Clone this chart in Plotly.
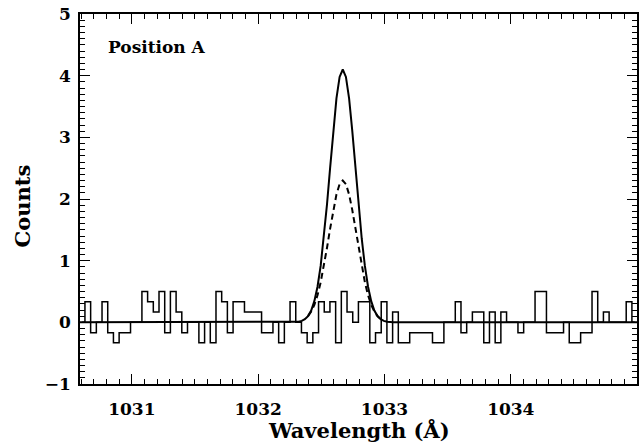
import plotly.graph_objects as go
import numpy as np

# Histogram (binned spectrum): regular wavelength bins
bin_start = 1030.584      # left edge of first bin (Å)
bin_width = 0.0451        # Å
counts = [
    0, 0.333, -0.167, 0, 0.333, -0.167, -0.333, -0.167, -0.167, 0,
    0, 0.5, 0.333, 0.167, 0.5, -0.167, 0.5, 0.167, -0.167, 0,
    0, -0.333, 0, -0.333, 0.5, 0.333, -0.167, 0.333, 0.333, 0.167,
    0.167, 0.167, -0.167, -0.167, 0, -0.333, 0, 0.333, 0, -0.167,
    -0.333, -0.167, 0.333, 0.167, 0.333, -0.333, 0.5, 0.167, 0, 0.333,
    0.333, -0.333, -0.167, 0.333, -0.333, 0.167, -0.333, -0.333, -0.167, -0.167,
    -0.167, -0.167, -0.333, -0.333, 0, 0, 0.333, -0.167, 0, 0.167,
    0.167, -0.333, 0.167, -0.333, 0.167, 0, 0, -0.167, 0, 0,
    0.5, 0.5, -0.167, -0.167, -0.167, 0, -0.333, -0.333, -0.167, -0.167,
    0.5, 0, 0.167, 0, 0, 0, 0.333, 0,
]
bin_centers = bin_start + bin_width * (np.arange(len(counts)) + 0.5)

# Total fitted model (solid)
model_wave = [1030.59, 1032.27, 1032.32, 1032.345, 1032.37, 1032.395, 1032.42,
              1032.445, 1032.47, 1032.495, 1032.52, 1032.545, 1032.57, 1032.595,
              1032.62, 1032.645, 1032.67, 1032.695, 1032.72, 1032.745, 1032.77,
              1032.795, 1032.82, 1032.845, 1032.87, 1032.895, 1032.92, 1032.945,
              1032.97, 1032.995, 1033.02, 1033.07, 1035.0]
model_counts = [0, 0.002, 0.010, 0.023, 0.050, 0.101, 0.192,
                0.343, 0.577, 0.914, 1.36, 1.91, 2.51, 3.11,
                3.63, 3.98, 4.10, 3.98, 3.63, 3.11, 2.51,
                1.91, 1.36, 0.914, 0.577, 0.343, 0.192, 0.101,
                0.050, 0.023, 0.010, 0.002, 0]

# Component (dashed)
comp_wave = [1032.395, 1032.42, 1032.445, 1032.47, 1032.495, 1032.52, 1032.545,
             1032.57, 1032.595, 1032.62, 1032.645, 1032.67, 1032.695, 1032.72,
             1032.745, 1032.77, 1032.795, 1032.82, 1032.845, 1032.87, 1032.895,
             1032.92, 1032.945, 1032.97]
comp_counts = [0.101, 0.174, 0.284, 0.440, 0.649, 0.908, 1.206,
               1.521, 1.823, 2.074, 2.241, 2.30, 2.241, 2.074,
               1.823, 1.521, 1.206, 0.908, 0.649, 0.440, 0.284,
               0.174, 0.101, 0.056]

x_ticks = [1031, 1032, 1033, 1034]
y_ticks = [-1, 0, 1, 2, 3, 4, 5]

FONT = "DejaVu Serif"
tfont = dict(family=FONT, size=17, color="black", weight="bold")
titlefont = dict(family=FONT, size=21, color="black", weight="bold")

fig = go.Figure()
fig.add_trace(go.Scatter(x=bin_centers, y=counts, mode="lines",
                         line=dict(shape="hvh", color="black", width=1.5),
                         showlegend=False))
fig.add_trace(go.Scatter(x=model_wave, y=model_counts, mode="lines",
                         line=dict(color="black", width=2), showlegend=False))
fig.add_trace(go.Scatter(x=comp_wave, y=comp_counts, mode="lines",
                         line=dict(color="black", width=2, dash="6px,4px"),
                         showlegend=False))

axis_common = dict(showline=True, linecolor="black", linewidth=1.5, mirror="allticks",
                   ticks="inside", ticklen=10, tickwidth=1, tickcolor="black",
                   showgrid=False, zeroline=False, automargin=False,
                   ticklabeloverflow="allow", tickfont=tfont)

fig.update_xaxes(range=[1030.59, 1034.999], tickmode="array", tickvals=x_ticks,
                 ticktext=[str(v) for v in x_ticks],
                 minor=dict(tickmode="linear", tick0=1031, dtick=0.1, ticks="inside",
                            ticklen=5, tickcolor="black", tickwidth=1),
                 ticklabelstandoff=9,
                 **axis_common)
fig.update_yaxes(range=[-1, 5], tickmode="array", tickvals=y_ticks,
                 ticktext=["\u22121" if v == -1 else str(v) for v in y_ticks],
                 minor=dict(tickmode="linear", tick0=0, dtick=0.1, ticks="inside",
                            ticklen=5, tickcolor="black", tickwidth=1),
                 ticklabelstandoff=4,
                 **axis_common)

# Axis titles and label as annotations for exact placement
fig.add_annotation(text="Wavelength (Å)", xref="paper", yref="paper", x=0.5, y=-0.125,
                   xanchor="center", yanchor="middle", showarrow=False, font=titlefont)
fig.add_annotation(text="Counts", xref="paper", yref="paper", x=-0.104, y=0.48,
                   xanchor="center", yanchor="middle", showarrow=False, textangle=-90,
                   font=titlefont)
fig.add_annotation(text="Position A", xref="paper", yref="paper", x=0.046, y=0.911,
                   xanchor="left", yanchor="middle", showarrow=False, font=tfont)

fig.update_layout(width=641, height=445, margin=dict(l=80, r=4, t=14, b=61),
                  plot_bgcolor="white", paper_bgcolor="white")

# remove the default page margin so the figure sits at the window's corner
fig.write_html("out.html",
               config={"displayModeBar": False},
               post_script="document.body.style.margin='0';"
                           "document.body.style.overflow='hidden';")
